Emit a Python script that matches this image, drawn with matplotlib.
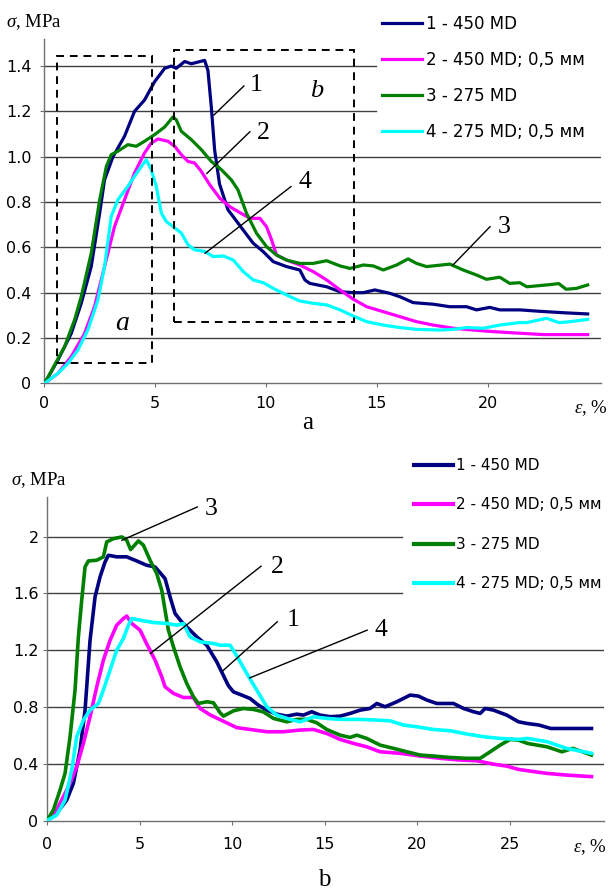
import matplotlib
matplotlib.use("Agg")
import matplotlib.pyplot as plt
from matplotlib.patches import Rectangle

plt.rcParams["mathtext.fontset"] = "custom"
plt.rcParams["mathtext.rm"] = "Liberation Serif"
plt.rcParams["mathtext.it"] = "Liberation Serif:italic"
plt.rcParams["font.family"] = ["DejaVu Sans"]

labels = ["1 - 450 MD", "2 - 450 MD; 0,5 мм", "3 - 275 MD", "4 - 275 MD; 0,5 мм"]
colors = ["#000080", "#FF00FF", "#008000", "#00FFFF"]

# ---- panel a: strain (%) vs stress (MPa)
a1_x = [0.03, 0.63, 1.23, 1.68, 2.13, 2.51, 2.73, 3.11, 3.63, 4.08, 4.53, 4.98, 5.44, 5.74, 5.96, 6.34,
        6.64, 7.24, 7.39, 7.54, 7.69, 7.91, 8.29, 8.53, 8.98, 9.43, 9.88, 10.33, 10.93, 11.53, 11.76,
        11.98, 12.74, 13.34, 13.94, 14.39, 14.91, 15.59, 16.04, 16.64, 17.54, 18.29, 19.04, 19.49,
        20.09, 20.54, 21.44, 22.3, 23.3, 24.5]
a1_y = [0, 0.103, 0.22, 0.353, 0.515, 0.751, 0.898, 1.0, 1.09, 1.2, 1.25, 1.33, 1.39, 1.40, 1.39, 1.42,
        1.41, 1.425, 1.38, 1.22, 1.03, 0.88, 0.766, 0.735, 0.676, 0.618, 0.581, 0.537, 0.515, 0.50, 0.456,
        0.441, 0.426, 0.404, 0.40, 0.40, 0.412, 0.397, 0.382, 0.356, 0.349, 0.338, 0.338, 0.324,
        0.335, 0.324, 0.324, 0.318, 0.312, 0.306]

a2_x = [0.03, 0.63, 1.23, 1.83, 2.28, 2.73, 3.18, 3.63, 4.08, 4.53, 4.83, 5.14, 5.59, 5.89, 6.19, 6.49,
        6.79, 7.09, 7.48, 7.93, 8.38, 8.83, 9.28, 9.73, 10.03, 10.26, 10.48, 10.93, 11.53, 12.13, 12.74,
        13.34, 13.94, 14.54, 15.29, 16.04, 16.79, 17.54, 18.44, 19.34, 20.24, 21.44, 22.5, 23.5, 24.5]
a2_y = [0, 0.044, 0.118, 0.22, 0.339, 0.515, 0.692, 0.81, 0.928, 1.016, 1.06, 1.078, 1.068, 1.046, 1.009,
        0.979, 0.972, 0.935, 0.875, 0.816, 0.779, 0.753, 0.728, 0.728, 0.691, 0.632, 0.566, 0.544, 0.522,
        0.493, 0.456, 0.412, 0.371, 0.338, 0.316, 0.294, 0.272, 0.257, 0.243, 0.235, 0.228, 0.221,
        0.215, 0.215, 0.215]

a3_x = [0.03, 0.48, 0.93, 1.38, 1.68, 2.13, 2.51, 2.81, 3.03, 3.33, 3.78, 4.16, 4.53, 4.98, 5.44, 5.81,
        5.96, 6.19, 6.64, 7.09, 7.54, 7.99, 8.44, 8.74, 9.13, 9.58, 10.03, 10.48, 10.93, 11.53, 12.13,
        12.74, 13.34, 13.79, 14.39, 14.84, 15.29, 15.89, 16.41, 16.79, 17.24, 18.29, 18.89, 19.49, 19.94,
        20.54, 20.99, 21.44, 21.76, 22.65, 23.2, 23.53, 24.0, 24.5]
a3_y = [0, 0.081, 0.162, 0.28, 0.383, 0.574, 0.81, 0.957, 1.009, 1.024, 1.053, 1.046, 1.068, 1.097, 1.131,
        1.175, 1.163, 1.112, 1.075, 1.031, 0.979, 0.943, 0.898, 0.854, 0.75, 0.662, 0.603, 0.566, 0.544,
        0.529, 0.529, 0.541, 0.518, 0.507, 0.522, 0.518, 0.50, 0.522, 0.549, 0.529, 0.515, 0.526, 0.50,
        0.478, 0.459, 0.468, 0.441, 0.444, 0.426, 0.434, 0.44, 0.415, 0.419, 0.434]

a4_x = [0.03, 0.63, 1.08, 1.53, 1.98, 2.43, 2.73, 3.03, 3.33, 3.78, 4.23, 4.61, 4.83, 5.06, 5.29, 5.51,
        5.81, 6.19, 6.49, 6.79, 7.24, 7.63, 8.08, 8.53, 8.98, 9.43, 9.88, 10.33, 10.93, 11.53, 12.13,
        12.74, 13.34, 13.94, 14.54, 15.29, 16.04, 16.79, 17.84, 18.44, 19.04, 19.79, 20.54, 21.44, 21.76,
        22.65, 23.2, 23.53, 24.5]
a4_y = [0, 0.044, 0.088, 0.147, 0.236, 0.368, 0.515, 0.736, 0.81, 0.869, 0.935, 0.987, 0.943, 0.869,
        0.751, 0.714, 0.692, 0.663, 0.611, 0.589, 0.582, 0.559, 0.562, 0.544, 0.493, 0.456, 0.444, 0.419,
        0.39, 0.363, 0.353, 0.346, 0.324, 0.297, 0.272, 0.257, 0.246, 0.238, 0.235, 0.238, 0.246, 0.243,
        0.257, 0.268, 0.268, 0.287, 0.268, 0.270, 0.282]

# ---- panel b
b1_x = [0, 0.53, 1.07, 1.43, 1.79, 2.06, 2.33, 2.60, 2.87, 3.14, 3.32, 3.77, 4.31, 4.85, 5.38, 5.84, 6.38,
        6.65, 6.92, 7.28, 7.73, 8.09, 8.63, 9.17, 9.5, 9.8, 10.07, 10.52, 10.97, 11.42, 11.87, 12.41,
        12.95, 13.49, 13.85, 14.30, 14.75, 15.29, 15.83, 16.37, 16.91, 17.45, 17.81, 18.26, 18.89, 19.61,
        20.06, 20.51, 21.05, 21.95, 22.49, 23.03, 23.39, 23.66, 24.11, 24.83, 25.46, 25.94, 26.57, 27.2,
        28.05, 29.4]
b1_y = [0, 0.052, 0.145, 0.263, 0.497, 0.778, 1.27, 1.575, 1.716, 1.821, 1.868, 1.857, 1.857, 1.828,
        1.798, 1.786, 1.704, 1.575, 1.458, 1.399, 1.341, 1.294, 1.235, 1.118, 1.03, 0.95, 0.907, 0.884,
        0.86, 0.813, 0.778, 0.75, 0.736, 0.75, 0.743, 0.767, 0.743, 0.732, 0.736, 0.755, 0.778, 0.79,
        0.825, 0.802, 0.837, 0.884, 0.877, 0.849, 0.825, 0.825, 0.79, 0.767, 0.755, 0.79, 0.778, 0.743,
        0.696, 0.684, 0.673, 0.649, 0.649, 0.649]

b2_x = [0, 0.53, 0.89, 1.25, 1.61, 1.97, 2.33, 2.69, 3.05, 3.41, 3.77, 4.13, 4.31, 4.58, 5.03, 5.38, 5.84,
        6.20, 6.38, 6.83, 7.37, 7.91, 8.27, 8.81, 9.53, 10.25, 10.97, 11.87, 12.77, 13.67, 14.39, 15.11,
        15.83, 16.55, 17.27, 17.99, 19.07, 20.15, 21.23, 22.31, 23.21, 24.11, 24.83, 25.46, 25.94, 27.0,
        28.05, 29.4]
b2_y = [0, 0.075, 0.169, 0.263, 0.38, 0.544, 0.731, 0.942, 1.13, 1.27, 1.376, 1.423, 1.44, 1.388, 1.341,
        1.247, 1.13, 1.013, 0.942, 0.896, 0.867, 0.867, 0.79, 0.745, 0.70, 0.655, 0.642, 0.626, 0.626,
        0.638, 0.642, 0.614, 0.572, 0.544, 0.52, 0.485, 0.474, 0.455, 0.439, 0.427, 0.422, 0.398, 0.384,
        0.361, 0.352, 0.333, 0.321, 0.31]

b3_x = [0, 0.35, 0.71, 0.98, 1.25, 1.52, 1.70, 1.88, 2.06, 2.24, 2.69, 3.05, 3.23, 3.59, 4.04, 4.31, 4.52,
        4.94, 5.21, 5.57, 5.93, 6.20, 6.38, 6.56, 6.83, 7.19, 7.55, 7.91, 8.18, 8.63, 8.99, 9.35, 9.53,
        10.07, 10.61, 11.15, 11.69, 12.23, 12.95, 13.49, 14.03, 14.57, 15.11, 15.83, 16.37, 16.73, 17.27,
        17.99, 18.71, 19.43, 20.15, 20.87, 21.77, 22.67, 23.39, 23.93, 24.47, 25.01, 25.46, 25.94, 27.0,
        27.8, 28.4, 29.4]
b3_y = [0, 0.075, 0.216, 0.333, 0.591, 0.919, 1.294, 1.552, 1.786, 1.828, 1.833, 1.857, 1.962, 1.985,
        1.997, 1.974, 1.908, 1.969, 1.939, 1.833, 1.739, 1.622, 1.481, 1.341, 1.224, 1.083, 0.966, 0.872,
        0.825, 0.837, 0.83, 0.76, 0.736, 0.773, 0.79, 0.783, 0.766, 0.72, 0.696, 0.713, 0.713, 0.689,
        0.642, 0.602, 0.586, 0.602, 0.579, 0.532, 0.509, 0.485, 0.462, 0.455, 0.445, 0.439, 0.439, 0.485,
        0.532, 0.572, 0.567, 0.544, 0.52, 0.485, 0.509, 0.462]

b4_x = [0, 0.53, 0.98, 1.34, 1.61, 1.97, 2.33, 2.78, 3.05, 3.41, 3.77, 4.13, 4.40, 4.58, 5.03, 5.75, 6.47,
        7.01, 7.37, 7.73, 8.27, 8.99, 9.35, 9.89, 10.25, 10.79, 11.33, 11.87, 12.41, 13.13, 13.67, 14.39,
        15.11, 15.83, 16.91, 17.81, 18.53, 19.25, 19.97, 20.87, 21.77, 22.67, 23.57, 24.47, 25.46, 25.94,
        27.0, 28.05, 29.4]
b4_y = [0, 0.04, 0.145, 0.356, 0.591, 0.708, 0.778, 0.825, 0.919, 1.06, 1.2, 1.282, 1.376, 1.423, 1.411,
        1.395, 1.388, 1.376, 1.388, 1.294, 1.259, 1.247, 1.235, 1.235, 1.16, 1.036, 0.919, 0.802, 0.743,
        0.713, 0.696, 0.731, 0.72, 0.713, 0.713, 0.708, 0.703, 0.673, 0.661, 0.642, 0.633, 0.61, 0.591,
        0.579, 0.572, 0.579, 0.556, 0.509, 0.474]

a_ticks_x = [0, 5, 10, 15, 20]
a_ticks_y = [0, 0.2, 0.4, 0.6, 0.8, 1.0, 1.2, 1.4]
a_ticklabels_y = ["0", "0.2", "0.4", "0.6", "0.8", "1.0", "1.2", "1.4"]
b_ticks_x = [0, 5, 10, 15, 20, 25]
b_ticks_y = [0, 0.4, 0.8, 1.2, 1.6, 2.0]
b_ticklabels_y = ["0", "0.4", "0.8", "1.2", "1.6", "2"]

SERIF = "Liberation Serif"

fig = plt.figure(figsize=(6.09, 8.91), dpi=100)
ax_a = fig.add_axes([0.0722, 0.5698, 0.9146, 0.3861])
ax_b = fig.add_axes([0.0770, 0.0789, 0.9140, 0.3636])


def style_axes(ax, xlim, ylim, xt, yt, ytl, grid_short_from, grid_xmax, padx, pady):
    ax.set_xlim(*xlim)
    ax.set_ylim(*ylim)
    for s in ["top", "right"]:
        ax.spines[s].set_visible(False)
    for s in ["left", "bottom"]:
        ax.spines[s].set_color("#707070")
        ax.spines[s].set_linewidth(1.0)
    ax.set_xticks(xt)
    ax.set_xticklabels([str(v) for v in xt])
    ax.set_yticks(yt)
    ax.set_yticklabels(ytl)
    ax.tick_params(axis="x", direction="out", length=3, color="#707070", labelsize=11.5, pad=padx)
    ax.tick_params(axis="y", direction="out", length=3, color="#707070", labelsize=11.5, pad=pady)
    for v in yt[1:]:
        xm = grid_xmax if v >= grid_short_from else 1.0
        ax.axhline(v, xmin=0, xmax=xm, color="#404040", lw=1.0, zorder=1)


style_axes(ax_a, (0, 25.1), (0, 1.518), a_ticks_x, a_ticks_y, a_ticklabels_y, 1.2, 0.596, 6, 6)
style_axes(ax_b, (0, 30.05), (0, 2.28), b_ticks_x, b_ticks_y, b_ticklabels_y, 1.6, 0.638, 9, 3)

lines_a = []
for xs, ys, c in zip([a1_x, a2_x, a3_x, a4_x], [a1_y, a2_y, a3_y, a4_y], colors):
    ln, = ax_a.plot(xs, ys, color=c, lw=2.3, zorder=3, solid_joinstyle="round")
    lines_a.append(ln)
lines_b = []
for xs, ys, c in zip([b1_x, b2_x, b3_x, b4_x], [b1_y, b2_y, b3_y, b4_y], colors):
    ln, = ax_b.plot(xs, ys, color=c, lw=2.6, zorder=3, solid_joinstyle="round")
    lines_b.append(ln)

# dashed frames a and b
for (x0, y0, x1, y1) in [(0.57, 0.091, 4.86, 1.446), (5.86, 0.27, 13.95, 1.472)]:
    ax_a.add_patch(Rectangle((x0, y0), x1 - x0, y1 - y0, fill=False, ls=(0, (4, 3)),
                             lw=1.4, ec="black", zorder=4))
ax_a.text(3.53, 0.265, "a", family=SERIF, style="italic", fontsize=20, ha="center", va="center")
ax_a.text(12.27, 1.29, "b", family=SERIF, style="italic", fontsize=19, ha="center", va="center")

# leader lines with curve numbers
a_marks = [("1", (9.01, 1.312), (7.66, 1.184), (9.54, 1.316)),
           ("2", (9.28, 1.11), (7.34, 0.926), (9.9, 1.103)),
           ("4", (11.13, 0.868), (7.26, 0.574), (11.74, 0.89)),
           ("3", (20.1, 0.691), (18.43, 0.522), (20.72, 0.691))]
b_marks = [("3", (8.12, 2.208), (4.05, 1.974), (8.86, 2.196)),
           ("2", (11.56, 1.791), (5.59, 1.177), (12.44, 1.786)),
           ("1", (12.44, 1.40), (9.5, 1.055), (13.29, 1.411)),
           ("4", (17.29, 1.341), (10.95, 1.005), (18.03, 1.341))]
for ax, marks in [(ax_a, a_marks), (ax_b, b_marks)]:
    for num, p0, p1, pt in marks:
        ax.plot([p0[0], p1[0]], [p0[1], p1[1]], color="black", lw=1.0, zorder=5)
        ax.text(pt[0], pt[1], num, family=SERIF, fontsize=18.5, ha="center", va="center")

# axis captions
cap = dict(family=SERIF, fontsize=13.5, va="center")
fig.text(6 / 609, 1 - 21.7 / 891, r"$\it{\sigma}$, MPa", ha="left", **cap)
fig.text(608 / 609, 1 - 408 / 891, r"$\it{\varepsilon}$, %", ha="right", **cap)
fig.text(308 / 609, 1 - 423 / 891, "a", family=SERIF, fontsize=18, ha="center", va="center")
fig.text(11 / 609, 1 - 480 / 891, r"$\it{\sigma}$, MPa", ha="left", **cap)
fig.text(607 / 609, 1 - 847 / 891, r"$\it{\varepsilon}$, %", ha="right", **cap)
fig.text(324 / 609, 1 - 880 / 891, "b", family=SERIF, fontsize=18, ha="center", va="center")

# legends
leg_a = fig.legend(lines_a, labels, loc="upper left", bbox_to_anchor=(382 / 609, 1 - 15 / 891),
                   frameon=False, borderpad=0, borderaxespad=0, handlelength=2.4, handletextpad=0.24,
                   labelspacing=1.08, fontsize=12)
leg_b = fig.legend(lines_b, labels, loc="upper left", bbox_to_anchor=(414 / 609, 1 - 458 / 891),
                   frameon=False, borderpad=0, borderaxespad=0, handlelength=2.55, handletextpad=0.2,
                   labelspacing=1.6, fontsize=11)
for h in leg_a.get_lines():
    h.set_linewidth(2.3)
for h in leg_b.get_lines():
    h.set_linewidth(3.0)

fig.savefig("out.png", dpi=100)
